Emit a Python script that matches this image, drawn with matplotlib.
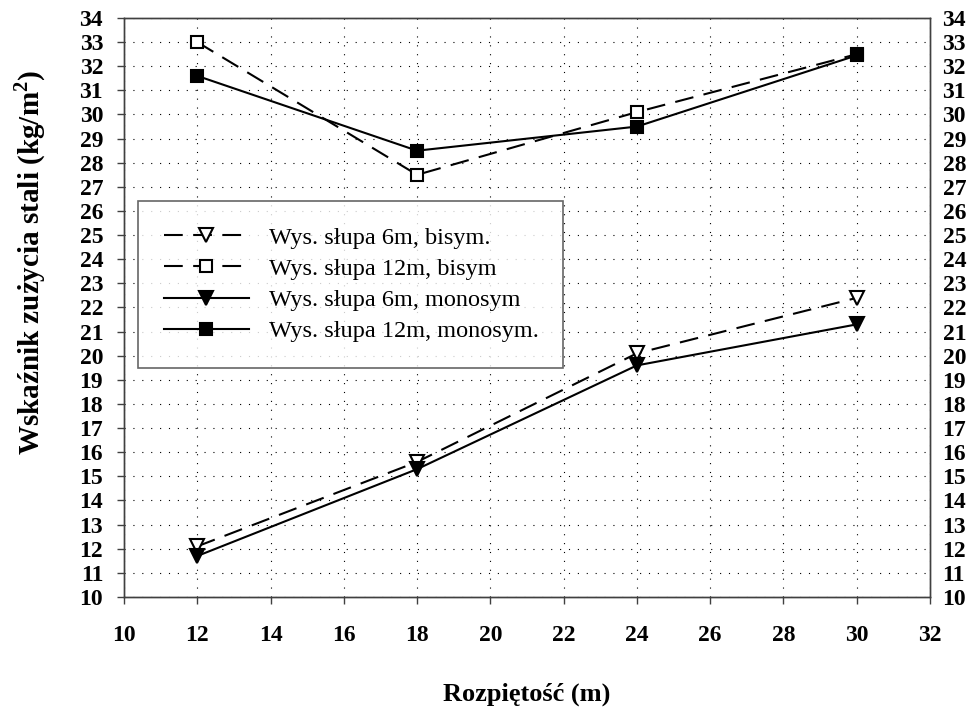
import matplotlib
matplotlib.use("Agg")
import matplotlib.pyplot as plt

plt.rcParams['font.family'] = ['Liberation Serif', 'DejaVu Serif']
plt.rcParams['mathtext.fontset'] = 'custom'
plt.rcParams['mathtext.rm'] = 'Liberation Serif'
plt.rcParams['mathtext.bf'] = 'Liberation Serif:bold'

# Rozpiętość hali (m)
span = [12, 18, 24, 30]

# Wskaźnik zużycia stali (kg/m2)
bisym_6m = [12.1, 15.6, 20.1, 22.4]
bisym_12m = [33.0, 27.5, 30.1, 32.5]
mono_6m = [11.7, 15.3, 19.6, 21.3]
mono_12m = [31.6, 28.5, 29.5, 32.45]

labels = ['Wys. słupa 6m, bisym.',
          'Wys. słupa 12m, bisym',
          'Wys. słupa 6m, monosym',
          'Wys. słupa 12m, monosym.']

x_ticks = list(range(10, 33, 2))
y_ticks = list(range(10, 35))

W, H = 974, 711
L, R, T, B = 124, 930, 18, 597

fig = plt.figure(figsize=(W / 100, H / 100), dpi=100)
ax = fig.add_axes([L / W, 1 - B / H, (R - L) / W, (B - T) / H])

dash = (0, (9, 5))
lw = 1.5
common = dict(color='black', linewidth=lw, markeredgecolor='black',
              markeredgewidth=1.5, clip_on=False, zorder=3)

ax.plot(span, bisym_6m, linestyle=dash, marker='v', markersize=10,
        markerfacecolor='white', label=labels[0], **common)
ax.plot(span, bisym_12m, linestyle=dash, marker='s', markersize=9,
        markerfacecolor='white', label=labels[1], **common)
ax.plot(span, mono_6m, linestyle='-', marker='v', markersize=10,
        markerfacecolor='black', label=labels[2], **common)
ax.plot(span, mono_12m, linestyle='-', marker='s', markersize=9,
        markerfacecolor='black', label=labels[3], **common)

ax.set_xlim(10, 32)
ax.set_ylim(10, 34)
ax.set_xticks(x_ticks)
ax.set_yticks(y_ticks)

ax.grid(True, color='black', linestyle=(0, (1, 7)), linewidth=0.8)

for s in ax.spines.values():
    s.set_color('#404040')
    s.set_linewidth(1.0)

ax.tick_params(axis='both', direction='out', length=5, width=1.0,
               color='#404040')
ax.tick_params(axis='x', pad=15)
ax.tick_params(axis='y', pad=10)
for t in ax.get_xticklabels() + ax.get_yticklabels():
    t.set_fontsize(17)
    t.set_fontweight('bold')

# Right-hand scale mirrors the left one
ax2 = ax.twinx()
ax2.set_ylim(10, 34)
ax2.set_yticks(y_ticks)
ax2.tick_params(axis='y', length=0, pad=9)
for t in ax2.get_yticklabels():
    t.set_fontsize(17)
    t.set_fontweight('bold')
for s in ax2.spines.values():
    s.set_color('#404040')
    s.set_linewidth(1.0)

ax.set_xlabel('Rozpiętość (m)', fontsize=19, fontweight='bold')
ax.set_ylabel(r'Wskaźnik zużycia stali (kg/m$^\mathbf{2}$)',
              fontsize=21, fontweight='bold')
ax.xaxis.label.set_va('center')
ax.yaxis.label.set_va('center')
ax.xaxis.set_label_coords(0.5, (B - 694) / (B - T))
ax.yaxis.set_label_coords((30 - L) / (R - L), (B - 262) / (B - T))

# Legend box spans 138..563 px horizontally, top edge at 201 px
lx0, lx1, ly0, ly1 = 138, 563, 201, 369
leg = ax.legend(loc='upper left', mode='expand',
                bbox_to_anchor=((lx0 - L) / (R - L), (B - ly1) / (B - T),
                                (lx1 - lx0) / (R - L), (ly1 - ly0) / (B - T)),
                fontsize=17.5, frameon=True, fancybox=False,
                edgecolor='#404040', handlelength=3.5, handletextpad=0.85,
                borderpad=1.05, labelspacing=0.38, borderaxespad=0)
leg.get_frame().set_linewidth(1.2)
leg.set_zorder(5)

fig.savefig('out.png', dpi=100)
